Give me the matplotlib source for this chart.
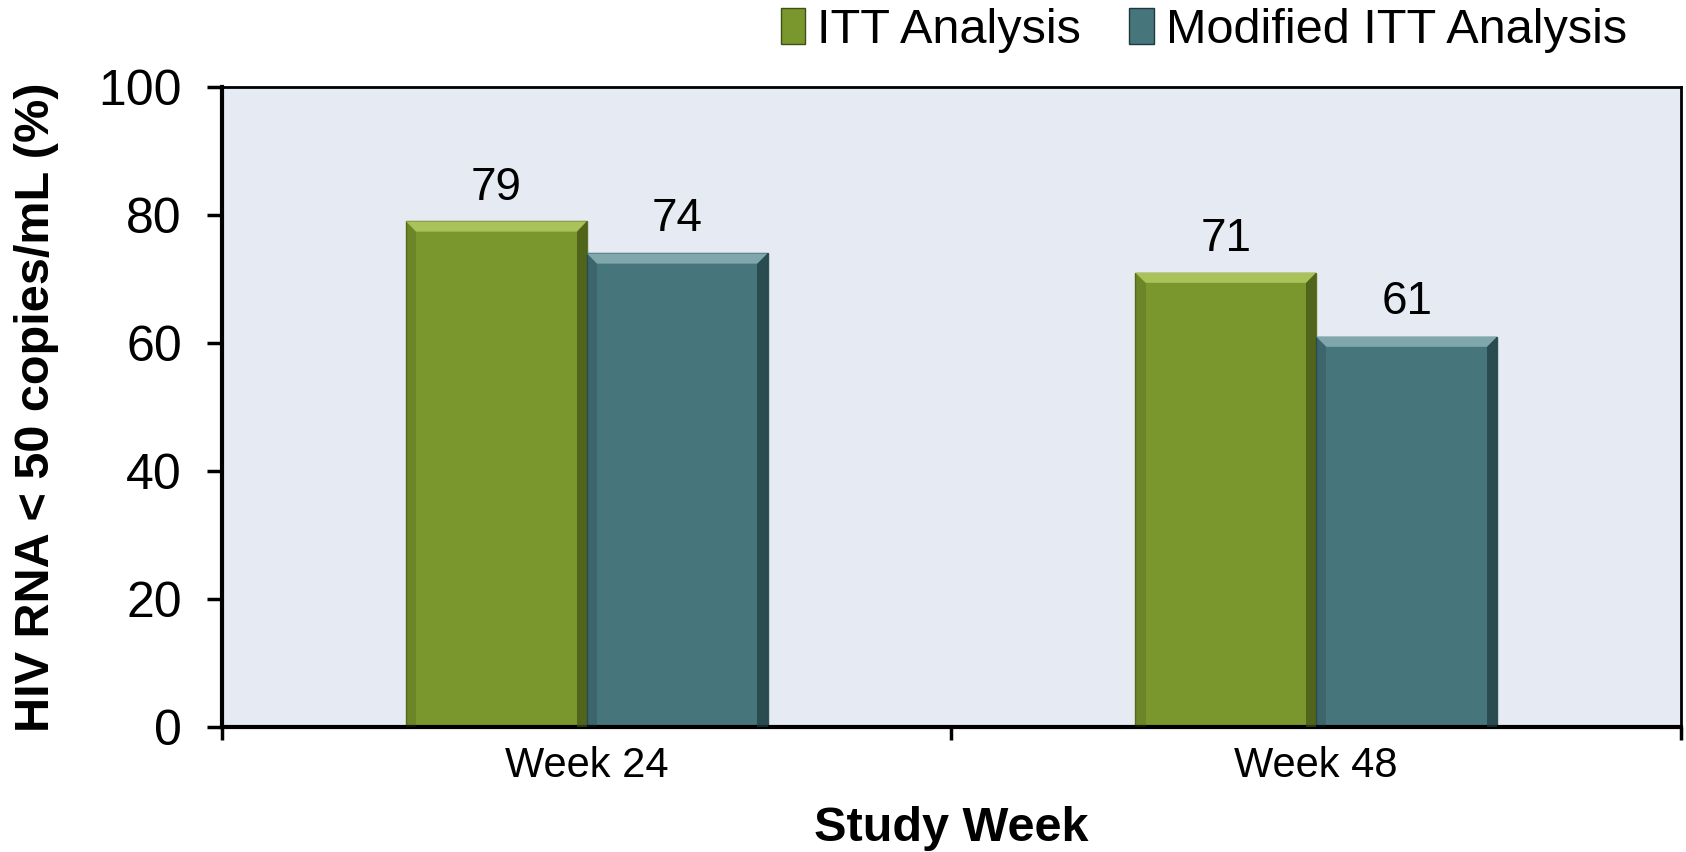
import numpy as np
import matplotlib
matplotlib.use('Agg')
import matplotlib.pyplot as plt
from matplotlib.patches import Polygon, Rectangle

plt.rcParams['font.family'] = ['Liberation Sans', 'DejaVu Sans']

# DATA
weeks = ['Week 24', 'Week 48']
itt = [79, 71]
mitt = [74, 61]
series_names = ['ITT Analysis', 'Modified ITT Analysis']

green = '#7A972E'
green_lt = '#A9C25A'
green_dk = '#3F5014'
teal = '#46757B'
teal_lt = '#7FA7AC'
teal_dk = '#1F3A3E'

fig = plt.figure(figsize=(16.86, 8.52), dpi=100)
ax = fig.add_axes([0.1317, 0.1467, 0.8653, 0.7512])
ax.set_facecolor('#E6EAF2')

x = np.arange(len(weeks))
w = 0.248

b1 = ax.bar(x - w / 2, itt, w, color=green, edgecolor='#5E7422', linewidth=1, zorder=2)
b2 = ax.bar(x + w / 2, mitt, w, color=teal, edgecolor='#2E5357', linewidth=1, zorder=2)

# bevel effect on bars
bx = 0.014
by = 1.6
for bars, lt, dk in [(b1, green_lt, green_dk), (b2, teal_lt, teal_dk)]:
    for r in bars:
        x0 = r.get_x()
        x1 = x0 + r.get_width()
        h = r.get_height()
        top = Polygon([[x0, h], [x1, h], [x1 - bx, h - by], [x0 + bx, h - by]],
                      closed=True, facecolor=lt, edgecolor='none', zorder=3)
        right = Polygon([[x1, h], [x1, 0], [x1 - bx, 0], [x1 - bx, h - by]],
                        closed=True, facecolor=dk, edgecolor='none', alpha=0.7, zorder=3)
        left = Polygon([[x0, h], [x0, 0], [x0 + bx, 0], [x0 + bx, h - by]],
                       closed=True, facecolor=dk, edgecolor='none', alpha=0.25, zorder=3)
        ax.add_patch(top)
        ax.add_patch(right)
        ax.add_patch(left)

ax.bar_label(b1, labels=[str(v) for v in itt], padding=8, fontsize=33)
ax.bar_label(b2, labels=[str(v) for v in mitt], padding=9, fontsize=33)

ax.set_xlim(-0.5, len(weeks) - 0.5)
ax.set_ylim(0, 100)
ax.set_yticks([0, 20, 40, 60, 80, 100])
ax.tick_params(axis='y', labelsize=36, length=11, width=2.5, direction='out', pad=18)

ax.set_xticks(x)
ax.set_xticklabels(weeks, fontsize=30)
ax.tick_params(axis='x', length=0, pad=14)
ax.set_xticks(np.arange(len(weeks) + 1) - 0.5, minor=True)
ax.tick_params(axis='x', which='minor', length=9, width=2.5, direction='out')

for s in ['left', 'bottom']:
    ax.spines[s].set_linewidth(3)
for s in ['top', 'right']:
    ax.spines[s].set_linewidth(2)

ax.set_ylabel('HIV RNA < 50 copies/mL (%)', fontsize=35, fontweight='bold', labelpad=28)
ax.set_xlabel('Study Week', fontsize=35, fontweight='bold', labelpad=14)

handles = [Rectangle((0, 0), 1, 1, facecolor=green, edgecolor=green_dk),
           Rectangle((0, 0), 1, 1, facecolor=teal, edgecolor=teal_dk)]
fig.legend(handles, series_names, loc='upper right', bbox_to_anchor=(0.991, 1.042),
           ncol=2, frameon=False, fontsize=35, handlelength=0.5, handleheight=0.75,
           handletextpad=0.25, columnspacing=1.0)

fig.savefig('out.png', dpi=100)
